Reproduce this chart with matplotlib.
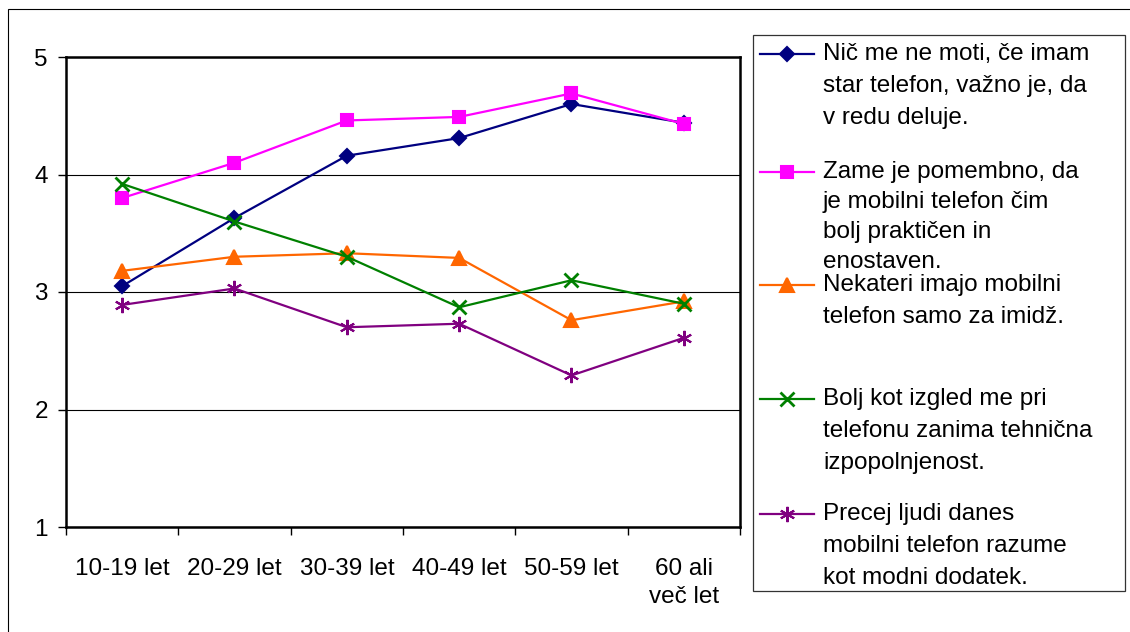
import matplotlib
matplotlib.use("Agg")
from matplotlib import pyplot as plt
from matplotlib.lines import Line2D
from matplotlib.patches import Rectangle

plt.rcParams['font.family'] = ['Liberation Sans', 'DejaVu Sans']

age_groups = ["10-19 let", "20-29 let", "30-39 let", "40-49 let", "50-59 let", "60 ali\nveč let"]

labels = [
    "Nič me ne moti, če imam\nstar telefon, važno je, da\nv redu deluje.",
    "Zame je pomembno, da\nje mobilni telefon čim\nbolj praktičen in\nenostaven.",
    "Nekateri imajo mobilni\ntelefon samo za imidž.",
    "Bolj kot izgled me pri\ntelefonu zanima tehnična\nizpopolnjenost.",
    "Precej ljudi danes\nmobilni telefon razume\nkot modni dodatek.",
]

star_phone = [3.05, 3.63, 4.16, 4.31, 4.60, 4.44]
practical = [3.80, 4.10, 4.46, 4.49, 4.69, 4.43]
image = [3.18, 3.30, 3.33, 3.29, 2.76, 2.92]
technical = [3.92, 3.60, 3.30, 2.87, 3.10, 2.90]
fashion = [2.89, 3.03, 2.70, 2.73, 2.29, 2.61]

series = [star_phone, practical, image, technical, fashion]
colors = ["#000080", "#FF00FF", "#FF6600", "#008000", "#800080"]
markers = ["D", "s", "^", "x", (6, 2, 0)]
msizes = [7.5, 9, 10, 10, 11]

W, H = 1130, 632
fig = plt.figure(figsize=(W / 100, H / 100), dpi=100)

# outer chart border
fig.patches.append(Rectangle((8 / W, -0.02), 1.1, (H - 9) / H + 0.02,
                             transform=fig.transFigure, fill=False,
                             edgecolor="black", lw=0.8, zorder=0))

ax = fig.add_axes([66 / W, 1 - 527 / H, (740 - 66) / W, (527 - 57) / H])

x = list(range(len(age_groups)))
for vals, c, m, ms in zip(series, colors, markers, msizes):
    ax.plot(x, vals, color=c, marker=m, markersize=ms, lw=1.6,
            markeredgewidth=2 if m == "x" else 1.5, clip_on=False, zorder=3)

ax.set_xlim(-0.5, len(age_groups) - 0.5)
ax.set_ylim(1, 5)
ax.set_yticks([1, 2, 3, 4, 5])
ax.grid(axis="y", color="black", lw=0.8)
ax.set_axisbelow(True)

# tick marks at category boundaries, labels in the middle
ax.set_xticks([i - 0.5 for i in range(len(age_groups) + 1)])
ax.set_xticklabels([])
ax.set_xticks(x, minor=True)
ax.set_xticklabels(age_groups, minor=True, fontsize=17.5, linespacing=1.35)
ax.tick_params(axis="x", which="major", length=6, width=1, direction="out")
ax.tick_params(axis="x", which="minor", length=0, pad=22)
ax.tick_params(axis="y", length=6, width=1, labelsize=17.5, pad=7)

for s in ax.spines.values():
    s.set_linewidth(1.8)

# legend box, drawn by hand like the Excel one
fig.patches.append(Rectangle((753 / W, 1 - 591 / H), 372 / W, 556 / H,
                             transform=fig.transFigure, fill=False,
                             edgecolor="#333333", lw=0.9))
entry_y = [54, 172, 285, 399, 514]
spacing = [1.6, 1.48, 1.58, 1.58, 1.58]
for lab, c, m, ms, yy, ls in zip(labels, colors, markers, msizes, entry_y, spacing):
    fy = 1 - yy / H
    fig.add_artist(Line2D([760 / W, 787 / W, 814 / W], [fy, fy, fy],
                          color=c, lw=1.6, marker=m, markersize=ms,
                          markeredgewidth=2 if m == "x" else 1.5,
                          markevery=[1], transform=fig.transFigure))
    fig.text(823 / W, 1 - (yy - 11) / H, lab, fontsize=17.5, va="top", ha="left",
             linespacing=ls)

fig.savefig("out.png", dpi=100)
